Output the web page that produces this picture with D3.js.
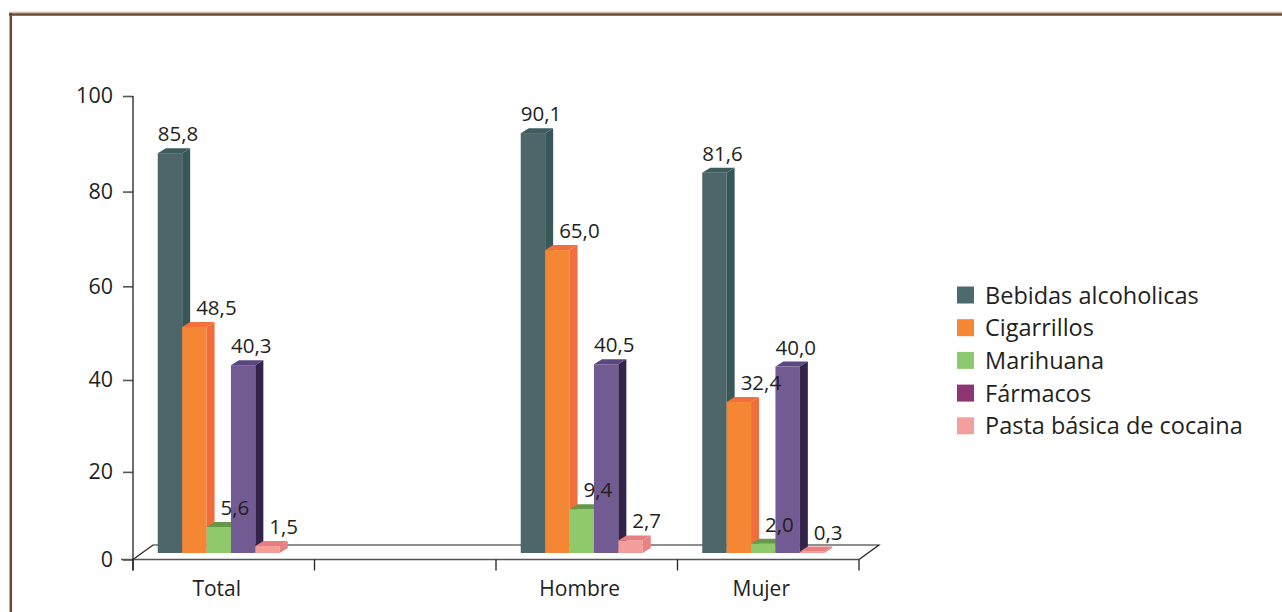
<!DOCTYPE html>
<html>
<head>
<meta charset="utf-8">
<script src="https://cdn.jsdelivr.net/npm/d3@7"></script>
<style>
  body { margin: 0; background: #fff; }
  text { font-family: "Open Sans", sans-serif; fill: #231f20; }
</style>
</head>
<body>
<script>
// datos del gráfico
const categories = ["Total", "", "Hombre", "Mujer"];
const series = ["Bebidas alcoholicas", "Cigarrillos", "Marihuana", "Fármacos", "Pasta básica de cocaina"];
const bebidas = [85.8, null, 90.1, 81.6];
const cigarrillos = [48.5, null, 65.0, 32.4];
const marihuana = [5.6, null, 9.4, 2.0];
const farmacos = [40.3, null, 40.5, 40.0];
const pasta = [1.5, null, 2.7, 0.3];
const yTicks = [0, 20, 40, 60, 80, 100];

const values = [bebidas, cigarrillos, marihuana, farmacos, pasta];

// colores: frente, techo, lado, leyenda
const front = ["#4c6669", "#f58634", "#8fc96c", "#725a93", "#f49e9b"];
const topc  = ["#3e5c5e", "#f36f3b", "#67984a", "#5a4680", "#e87f7e"];
const side  = ["#385759", "#f26d3c", "#67984a", "#33234a", "#e98383"];
const legendColor = ["#4d6a6f", "#f58634", "#8fc96f", "#8e3675", "#f4a09c"];

const W = 1282, H = 612;
const dx = 8, dy = -5;          // profundidad de las barras
const fdx = 20, fdy = -14.5;    // profundidad del piso

const svg = d3.select("body").append("svg")
  .attr("width", W)
  .attr("height", H);

// marco
svg.append("line").attr("x1", 9).attr("x2", W).attr("y1", 12.5).attr("y2", 12.5)
  .attr("stroke", "#cdb9ab").attr("stroke-width", 1.5);
svg.append("line").attr("x1", 9).attr("x2", W).attr("y1", 14.5).attr("y2", 14.5)
  .attr("stroke", "#6b4a33").attr("stroke-width", 2.5);
svg.append("line").attr("x1", 10.8).attr("x2", 10.8).attr("y1", 13).attr("y2", H)
  .attr("stroke", "#6b4a33").attr("stroke-width", 2.5);

const x = d3.scaleBand().domain(categories).range([133, 859]).paddingInner(0);
const xs = d3.scaleBand().domain(series).range([0, 122]);
const yBar = d3.scaleLinear().domain([0, 100]).range([553, 87]);
const yAx = d3.scalePow().exponent(1.035).domain([0, 100]).range([559.5, 96]);

const groupLeft = c => x(c) + (x.bandwidth() - 122) / 2 - 5;

// piso
const x0 = x.range()[0], x1 = x.range()[1], y0 = yAx(0);
svg.append("path")
  .attr("d", `M${x0},${y0} L${x0 + fdx},${y0 + fdy} H${x1 + fdx} L${x1},${y0}`)
  .attr("fill", "none").attr("stroke", "#231f20").attr("stroke-width", 1.2);
svg.append("line").attr("x1", 121).attr("x2", x1).attr("y1", y0).attr("y2", y0)
  .attr("stroke", "#555").attr("stroke-width", 1.6);

// eje y
const yAxis = svg.append("g")
  .attr("transform", `translate(${x0},0)`)
  .call(d3.axisLeft(yAx).tickValues(yTicks).tickSize(10).tickSizeOuter(0).tickPadding(10));
yAxis.select(".domain").remove();
yAxis.selectAll(".tick line").attr("stroke", "#555").attr("stroke-width", 1.6);
yAxis.selectAll(".tick text").attr("font-size", 21.5).attr("font-family", "Open Sans").attr("fill", "#231f20");
svg.append("line").attr("x1", x0).attr("x2", x0).attr("y1", yAx(100)).attr("y2", y0 + 11)
  .attr("stroke", "#231f20").attr("stroke-width", 1.3);

// marcas del eje x en los bordes de cada categoría
const edges = categories.map(c => x(c)).concat([x1]);
svg.selectAll(".xtick").data(edges).enter().append("line")
  .attr("x1", d => d).attr("x2", d => d)
  .attr("y1", y0).attr("y2", y0 + 11)
  .attr("stroke", "#231f20").attr("stroke-width", 1.3);

svg.selectAll(".xlab").data(categories.filter(c => c !== "")).enter().append("text")
  .attr("x", c => groupLeft(c) + 59)
  .attr("y", 596)
  .attr("text-anchor", "middle")
  .attr("font-size", 21)
  .text(c => c);

// barras 3D
const fmt = v => d3.format(".1f")(v).replace(".", ",");
const bw = xs.bandwidth();

categories.forEach((c, ci) => {
  if (c === "") return;
  const g = svg.append("g");
  const gl = groupLeft(c);
  series.forEach((s, si) => {
    const v = values[si][ci];
    const bx = gl + xs(s);
    const yt = yBar(v), yb = yBar(0);
    g.append("rect").attr("x", bx).attr("y", yt).attr("width", bw).attr("height", yb - yt)
      .attr("fill", front[si]);
    g.append("path")
      .attr("d", `M${bx},${yt} L${bx + dx},${yt + dy} H${bx + bw + dx} L${bx + bw},${yt} Z`)
      .attr("fill", topc[si]);
    g.append("path")
      .attr("d", `M${bx + bw},${yt} L${bx + bw + dx},${yt + dy} V${yb + dy} L${bx + bw},${yb} Z`)
      .attr("fill", side[si]);
  });
  // etiquetas de valor: se corren a la derecha si la barra anterior es más alta
  series.forEach((s, si) => {
    const v = values[si][ci];
    const bx = gl + xs(s);
    let lx = bx;
    const prev = si > 0 ? values[si - 1][ci] : null;
    if (prev !== null && prev > v + 15) {
      lx = Math.max(lx, gl + xs(series[si - 1]) + bw + dx + 6);
    }
    g.append("text")
      .attr("x", lx)
      .attr("y", yBar(v) - 12)
      .attr("font-size", 20.5)
      .text(fmt(v));
  });
});

// leyenda
const lg = svg.append("g").attr("transform", "translate(957,295)");
series.forEach((s, i) => {
  const row = lg.append("g").attr("transform", `translate(0,${i * 32.7})`);
  row.append("rect").attr("x", 0).attr("y", -8.5).attr("width", 17).attr("height", 17)
    .attr("fill", legendColor[i]);
  row.append("text").attr("x", 28).attr("y", 8.5).attr("font-size", 23.5).text(s);
});
</script>
</body>
</html>
